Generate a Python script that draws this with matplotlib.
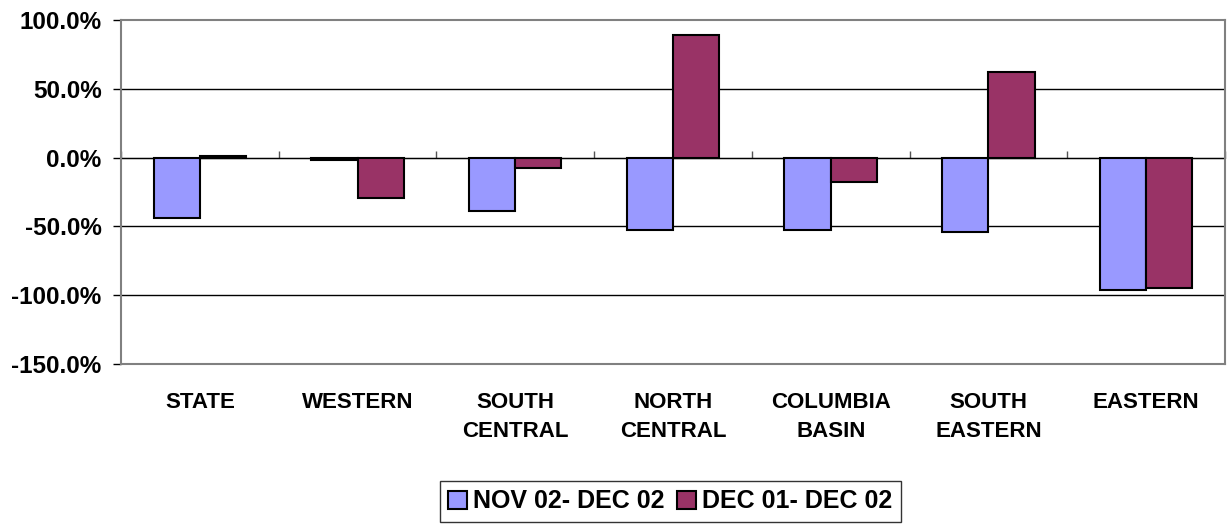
import matplotlib
matplotlib.use("Agg")
import matplotlib.pyplot as plt
import numpy as np
from matplotlib.ticker import PercentFormatter

# data (percent change)
regions = ["STATE", "WESTERN", "SOUTH\nCENTRAL", "NORTH\nCENTRAL",
           "COLUMBIA\nBASIN", "SOUTH\nEASTERN", "EASTERN"]
nov02_dec02 = [-43.7, -1.5, -39.1, -52.4, -52.4, -53.7, -96.0]
dec01_dec02 = [1.5, -29.4, -7.3, 88.8, -17.7, 62.4, -94.5]
series_names = ["NOV 02- DEC 02", "DEC 01- DEC 02"]
y_ticks = [100, 50, 0, -50, -100, -150]

plt.rcParams["font.family"] = ["Liberation Sans", "DejaVu Sans"]
plt.rcParams["font.weight"] = "bold"
plt.rcParams["axes.unicode_minus"] = False

fig = plt.figure(figsize=(12.31, 5.27), dpi=100)
ax = fig.add_axes([0.0983, 0.3093, 0.8968, 0.6527])

x = np.arange(len(regions))
w = 0.293
ax.bar(x - w / 2, nov02_dec02, w, color="#9999FF", edgecolor="black",
       linewidth=1.5, label=series_names[0], zorder=3)
ax.bar(x + w / 2, dec01_dec02, w, color="#993366", edgecolor="black",
       linewidth=1.5, label=series_names[1], zorder=3)

ymin, ymax = -150, 100
ax.set_ylim(ymin, ymax)
ax.set_xlim(-0.5, len(regions) - 0.5)
ax.set_yticks(y_ticks)
ax.yaxis.set_major_formatter(PercentFormatter(decimals=1))
ax.tick_params(axis="y", labelsize=17.5, length=6, width=1, pad=8, color="black")

# gridlines (black) inside the frame
for t in y_ticks[1:-1]:
    ax.axhline(t, color="black", linewidth=1, zorder=1)

for s in ax.spines.values():
    s.set_color("#808080")
    s.set_linewidth(1.5)

# category labels below the plot
ax.set_xticks(x)
ax.set_xticklabels(regions, fontsize=16, linespacing=1.5)
ax.tick_params(axis="x", length=0, pad=20)

# category axis at zero with boundary ticks
sec = ax.secondary_xaxis((0 - ymin) / (ymax - ymin))
sec.set_xticks(np.arange(len(regions) + 1) - 0.5)
sec.set_xticklabels([])
sec.tick_params(axis="x", length=5, width=1, color="#555555", direction="out")
sec.spines["bottom"].set_visible(False)

leg = fig.legend(loc="center", bbox_to_anchor=(0.5447, 0.0484), ncol=2,
                 fontsize=18, frameon=True, fancybox=False,
                 handlelength=0.75, handleheight=0.75, handletextpad=0.25,
                 columnspacing=0.5, borderpad=0.35, borderaxespad=0)
leg.get_frame().set_edgecolor("black")
leg.get_frame().set_linewidth(1)

fig.savefig("out.png", dpi=100)
